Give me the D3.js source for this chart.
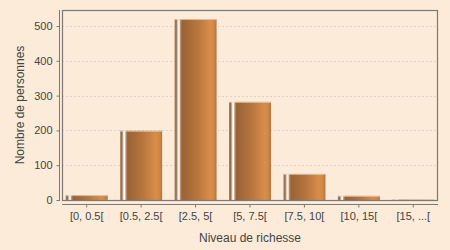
<!DOCTYPE html>
<html>
<head>
<meta charset="utf-8">
<script src="https://cdn.jsdelivr.net/npm/d3@7"></script>
<style>
  body { margin: 0; background: #fbebd8; }
  svg { display: block; font-family: 'Liberation Sans', Arial, sans-serif; }
  .axis-text { fill: #444; font-size: 11px; }
  .axis-label { fill: #444; font-size: 12px; }
</style>
</head>
<body>
<div id="chart"></div>
<script>
const categories = ['[0, 0.5[', '[0.5, 2.5[', '[2.5, 5[', '[5, 7.5[', '[7.5, 10[', '[10, 15[', '[15, ...['];
const personnes = [14, 199, 520, 282, 75, 12, 1];
const yTicks = [0, 100, 200, 300, 400, 500];

const width = 450, height = 250;
const plot = {left: 62, top: 10, right: 438, bottom: 200};

const svg = d3.select('#chart')
  .append('svg')
  .attr('width', width)
  .attr('height', height);

svg.append('rect')
  .attr('width', width)
  .attr('height', height)
  .attr('fill', '#fbebd8');

// gradient for the bars (highlight stripe on the left)
const grad = svg.append('defs').append('linearGradient')
  .attr('id', 'barGrad')
  .attr('x1', '0%').attr('x2', '100%')
  .attr('y1', '0%').attr('y2', '0%');
[
  ['0%', '#b58660'], ['4%', '#8c6a4c'], ['8%', '#efe4da'], ['11%', '#ffffff'],
  ['14%', '#b89070'], ['18%', '#9a6234'], ['55%', '#b8763e'], ['85%', '#d98d4a'],
  ['93%', '#d08848'], ['100%', '#b27444']
].forEach(s => grad.append('stop').attr('offset', s[0]).attr('stop-color', s[1]));

const x = d3.scaleBand()
  .domain(categories)
  .range([plot.left, plot.right])
  .paddingInner(0.228)
  .paddingOuter(0.068);

const y = d3.scaleLinear()
  .domain([0, 546])
  .range([plot.bottom, plot.top]);

// horizontal grid lines
svg.selectAll('line.grid')
  .data(yTicks.filter(d => d > 0))
  .enter().append('line')
  .attr('class', 'grid')
  .attr('x1', plot.left)
  .attr('x2', plot.right)
  .attr('y1', d => Math.round(y(d)) + 0.5)
  .attr('y2', d => Math.round(y(d)) + 0.5)
  .attr('stroke', '#ddd3c6')
  .attr('stroke-dasharray', '2,2');

// bars
const bars = svg.selectAll('.bar-group')
  .data(categories.map((c, i) => ({key: c, value: personnes[i]})))
  .enter().append('g')
  .attr('class', 'bar-group');

bars.append('rect')
  .attr('x', d => x(d.key))
  .attr('y', d => y(d.value))
  .attr('width', x.bandwidth())
  .attr('height', d => y(0) - y(d.value))
  .attr('fill', 'url(#barGrad)');

bars.append('line')
  .attr('x1', d => x(d.key))
  .attr('x2', d => x(d.key) + x.bandwidth())
  .attr('y1', d => y(d.value) + 0.5)
  .attr('y2', d => y(d.value) + 0.5)
  .attr('stroke', '#f3d6b8')
  .attr('stroke-opacity', 0.7);

// plot outline
svg.append('rect')
  .attr('x', plot.left + 0.5)
  .attr('y', plot.top + 0.5)
  .attr('width', plot.right - plot.left - 1)
  .attr('height', plot.bottom - plot.top)
  .attr('fill', 'none')
  .attr('stroke', '#7d7a76')
  .attr('stroke-width', 1.2);

// y axis
const axisY = svg.append('g')
  .attr('transform', 'translate(59.5,0)')
  .call(d3.axisLeft(y).tickValues(yTicks).tickSize(3).tickPadding(4));
axisY.select('path.domain')
  .attr('d', 'M0,' + plot.top + 'V' + (plot.bottom + 1))
  .attr('stroke', '#7d7a76');
axisY.selectAll('g.tick line').attr('stroke', '#7d7a76');
axisY.selectAll('g.tick text')
  .attr('class', 'axis-text')
  .attr('font-family', null)
  .attr('font-size', null);

// x axis
const axisX = svg.append('g')
  .attr('transform', 'translate(0,204.5)')
  .call(d3.axisBottom(x).tickSize(3).tickPadding(5));
axisX.select('path.domain')
  .attr('d', 'M' + plot.left + ',0H' + plot.right)
  .attr('stroke', '#7d7a76');
axisX.selectAll('g.tick line').attr('stroke', '#7d7a76');
axisX.selectAll('g.tick text')
  .attr('class', 'axis-text')
  .attr('font-family', null)
  .attr('font-size', null);

// axis titles
svg.append('text')
  .attr('class', 'axis-label')
  .attr('x', (plot.left + plot.right) / 2)
  .attr('y', 242)
  .attr('text-anchor', 'middle')
  .text('Niveau de richesse');

svg.append('text')
  .attr('class', 'axis-label')
  .attr('transform', 'translate(24,' + (plot.top + plot.bottom) / 2 + ') rotate(-90)')
  .attr('text-anchor', 'middle')
  .text('Nombre de personnes');
</script>
</body>
</html>
